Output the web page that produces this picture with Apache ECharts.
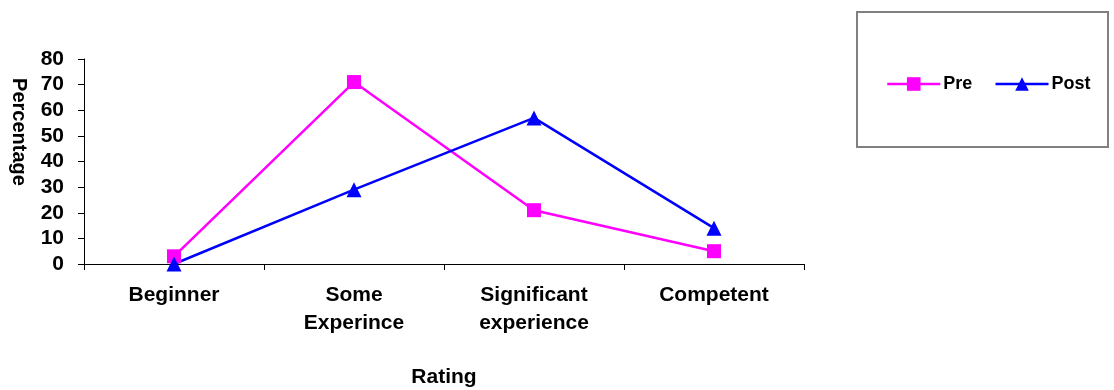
<!DOCTYPE html>
<html>
<head>
<meta charset="utf-8">
<script src="https://cdn.jsdelivr.net/npm/echarts@6/dist/echarts.min.js"></script>
<style>html,body{margin:0;padding:0;background:#fff}#c{width:1114px;height:390px}</style>
</head>
<body>
<div id="c"></div>
<script>
const categories = ['Beginner', 'Some\nExperince', 'Significant\nexperience', 'Competent'];
const preValues = [3, 71, 21, 5];
const postValues = [0, 29, 57, 14];
const yTicks = { min: 0, max: 80, interval: 10 };

const chart = echarts.init(document.getElementById('c'), null, { renderer: 'canvas' });
const font = 'Liberation Sans, Arial, sans-serif';
chart.setOption({
  animation: false,
  backgroundColor: '#fff',
  grid: { left: 84, right: 310, top: 59, bottom: 126, containLabel: false, outerBoundsMode: 'none' },
  legend: {
    left: 881, top: 70,
    itemWidth: 53, itemHeight: 17, itemGap: 22,
    lineStyle: { width: 2.5 },
    textStyle: { fontFamily: font, fontWeight: 'bold', fontSize: 18, color: '#000', padding: [0, 0, 0, -2] },
    data: ['Pre', 'Post']
  },
  graphic: [
    { type: 'rect', shape: { x: 857, y: 12, width: 251, height: 135 }, style: { fill: 'none', stroke: '#808080', lineWidth: 2 } },
    { type: 'text', x: 19, y: 132, rotation: -Math.PI / 2,
      style: { text: 'Percentage', font: 'bold 20px ' + font, fill: '#000', align: 'center', verticalAlign: 'middle' } }
  ],
  xAxis: {
    type: 'category', data: categories, boundaryGap: true,
    name: 'Rating', nameLocation: 'middle', nameGap: 103,
    nameTextStyle: { fontFamily: font, fontWeight: 'bold', fontSize: 21, color: '#000' },
    axisLine: { lineStyle: { color: '#000', width: 1 } },
    axisTick: { show: true, length: 6, lineStyle: { color: '#000' } },
    axisLabel: { interval: 0, margin: 17, fontFamily: font, fontWeight: 'bold', fontSize: 21, color: '#000', lineHeight: 28 },
    splitLine: { show: false }
  },
  yAxis: {
    type: 'value', min: yTicks.min, max: yTicks.max, interval: yTicks.interval,
    axisLine: { show: true, lineStyle: { color: '#000', width: 1 } },
    axisTick: { show: true, length: 6, lineStyle: { color: '#000' } },
    axisLabel: { margin: 20, fontFamily: font, fontWeight: 'bold', fontSize: 21, color: '#000' },
    splitLine: { show: false }
  },
  series: [
    { name: 'Pre', type: 'line', data: preValues, symbol: 'rect', symbolSize: 14,
      lineStyle: { color: '#FF00FF', width: 2.5 }, itemStyle: { color: '#FF00FF' } },
    { name: 'Post', type: 'line', data: postValues, symbol: 'triangle', symbolSize: 15,
      lineStyle: { color: '#0000FF', width: 2.5 }, itemStyle: { color: '#0000FF' } }
  ]
});
</script>
</body>
</html>
